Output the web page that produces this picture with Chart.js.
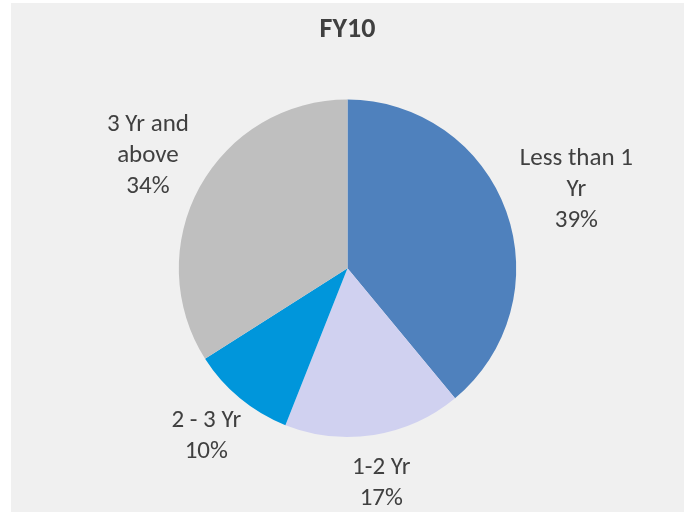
<!DOCTYPE html>
<html>
<head>
<meta charset="utf-8">
<script src="https://cdn.jsdelivr.net/npm/chart.js@4/dist/chart.umd.min.js"></script>
<style>
  html, body { margin: 0; padding: 0; background: #ffffff; width: 689px; height: 512px; overflow: hidden; }
  #box { position: absolute; left: 11px; top: 3px; width: 673px; height: 509px; background: #f0f0f0; }
  #myChart { display: block; }
</style>
</head>
<body>
<div id="box"><canvas id="myChart" width="673" height="509"></canvas></div>
<script>
// chart data
const title = 'FY10';
const categories = ['Less than 1 Yr', '1-2 Yr', '2 - 3 Yr', '3 Yr and above'];
const labelLines = [['Less than 1', 'Yr'], ['1-2 Yr'], ['2 - 3 Yr'], ['3 Yr and', 'above']];
const shares = [39, 17, 10, 34];
const colors = ['#4f81bd', '#d0d1f0', '#0096db', '#bfbfbf'];

const labelFont = '25px Carlito, Lato, "Liberation Sans", sans-serif';
const textColor = '#404040';

// draws the category + percent labels just outside each slice
const outsideLabels = {
  id: 'outsideLabels',
  afterDatasetsDraw(chart) {
    const ctx = chart.ctx;
    const meta = chart.getDatasetMeta(0);
    const total = shares.reduce((a, b) => a + b, 0);
    ctx.save();
    ctx.font = labelFont;
    ctx.fillStyle = textColor;
    ctx.textAlign = 'center';
    ctx.textBaseline = 'middle';
    const lineH = 31;
    meta.data.forEach((arc, i) => {
      const p = arc.getProps(['x', 'y', 'startAngle', 'endAngle', 'outerRadius'], true);
      const mid = (p.startAngle + p.endAngle) / 2;
      const dx = Math.cos(mid), dy = Math.sin(mid);
      const lines = labelLines[i].concat([Math.round(shares[i] / total * 100) + '%']);
      const w = Math.max(...lines.map(l => ctx.measureText(l).width));
      const h = lines.length * lineH;
      const gap = 18;
      const cx = p.x + (p.outerRadius + gap) * dx + dx * w / 2;
      const cy = p.y + (p.outerRadius + gap) * dy + dy * h / 2;
      lines.forEach((l, j) => {
        ctx.fillText(l, cx, cy - h / 2 + lineH * (j + 0.5));
      });
    });
    ctx.restore();
  }
};

const ctx = document.getElementById('myChart').getContext('2d');
const myChart = new Chart(ctx, {
  type: 'pie',
  data: {
    labels: categories,
    datasets: [{
      data: shares,
      backgroundColor: colors,
      borderWidth: 0,
      hoverOffset: 0
    }]
  },
  options: {
    responsive: false,
    animation: false,
    layout: {
      padding: { top: 0, bottom: 75, left: 150, right: 150 }
    },
    plugins: {
      legend: { display: false },
      tooltip: { enabled: false },
      title: {
        display: true,
        text: title,
        color: textColor,
        font: { family: 'Carlito, Lato, "Liberation Sans", sans-serif', size: 28, weight: 'bold' },
        padding: { top: 10, bottom: 53 }
      }
    }
  },
  plugins: [outsideLabels]
});
</script>
</body>
</html>
